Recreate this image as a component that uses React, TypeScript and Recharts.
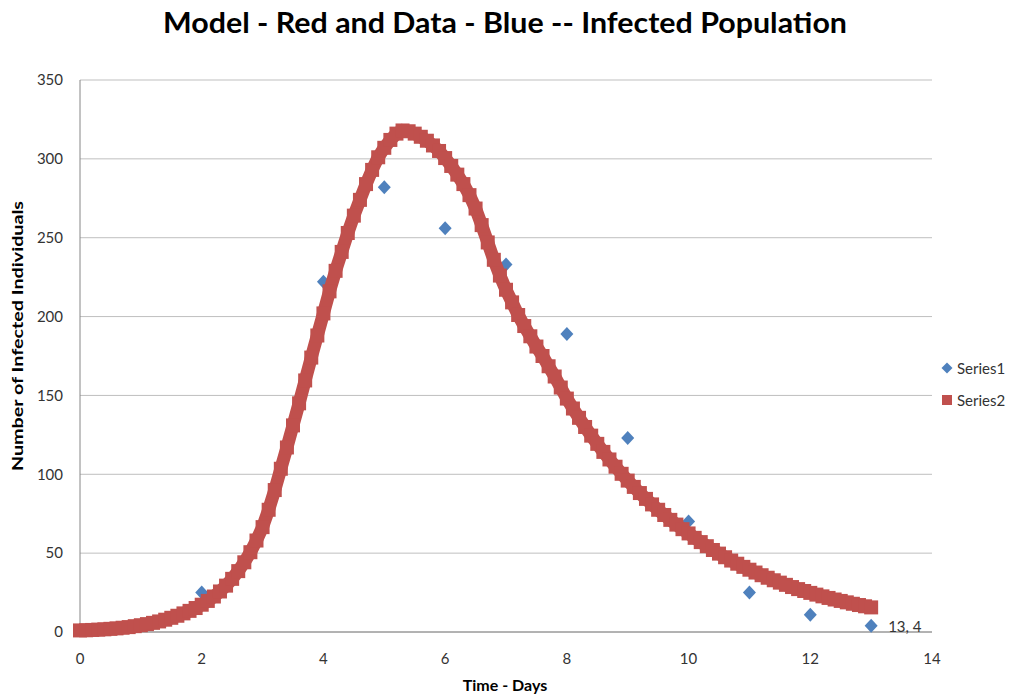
import React from "react";
import { ScatterChart, Scatter, XAxis, YAxis, CartesianGrid, Legend } from "recharts";

// the picture fills the whole window, so drop the default body margin
document.body.style.margin = "0";
document.body.style.overflow = "hidden";

// observed data (Series1, blue diamonds)
const dataDays = [2, 4, 5, 6, 7, 8, 9, 10, 11, 12, 13];
const dataInfected = [25, 222, 282, 256, 233, 189, 123, 70, 25, 11, 4];

// model curve (Series2, red squares) every 0.1 day
const modelDays = [
  0, 0.1, 0.2, 0.3, 0.4, 0.5, 0.6, 0.7, 0.8, 0.9,
  1, 1.1, 1.2, 1.3, 1.4, 1.5, 1.6, 1.7, 1.8, 1.9,
  2, 2.1, 2.2, 2.3, 2.4, 2.5, 2.6, 2.7, 2.8, 2.9,
  3, 3.1, 3.2, 3.3, 3.4, 3.5, 3.6, 3.7, 3.8, 3.9,
  4, 4.1, 4.2, 4.3, 4.4, 4.5, 4.6, 4.7, 4.8, 4.9,
  5, 5.1, 5.2, 5.3, 5.4, 5.5, 5.6, 5.7, 5.8, 5.9,
  6, 6.1, 6.2, 6.3, 6.4, 6.5, 6.6, 6.7, 6.8, 6.9,
  7, 7.1, 7.2, 7.3, 7.4, 7.5, 7.6, 7.7, 7.8, 7.9,
  8, 8.1, 8.2, 8.3, 8.4, 8.5, 8.6, 8.7, 8.8, 8.9,
  9, 9.1, 9.2, 9.3, 9.4, 9.5, 9.6, 9.7, 9.8, 9.9,
  10, 10.1, 10.2, 10.3, 10.4, 10.5, 10.6, 10.7, 10.8, 10.9,
  11, 11.1, 11.2, 11.3, 11.4, 11.5, 11.6, 11.7, 11.8, 11.9,
  12, 12.1, 12.2, 12.3, 12.4, 12.5, 12.6, 12.7, 12.8, 12.9,
  13,
];
const modelInfected = [
  1.0, 1.1, 1.3, 1.5, 1.7, 2.0, 2.3, 2.7, 3.1, 3.7,
  4.3, 5.0, 5.8, 6.7, 7.8, 9.0, 10.3, 11.8, 13.4, 15.2,
  17.3, 19.7, 22.5, 25.7, 29.4, 33.7, 38.6, 44.2, 50.6, 58,
  66.5, 77.5, 90, 103.5, 117, 131, 145, 159.5, 174, 188,
  202, 216, 229, 241, 253, 264, 274, 284, 293, 301,
  307, 312, 316, 318, 317.5, 316, 314, 311.5, 308.5, 305,
  300.5, 295.5, 290, 284, 277, 268.5, 258, 247, 236, 226,
  217, 209, 201, 194, 187.5, 181, 175, 168.5, 162, 155,
  148, 141.7, 135.8, 130, 124.5, 119.3, 114.2, 109.4, 104.8, 100.3,
  96, 92, 88.1, 84.4, 80.9, 77.5, 74.2, 71.1, 68.1, 65.2,
  62.5, 59.7, 57, 54.4, 52, 49.7, 47.4, 45.3, 43.3, 41.3,
  39.5, 37.7, 36, 34.4, 32.8, 31.3, 29.9, 28.5, 27.2, 26,
  24.8, 23.7, 22.6, 21.6, 20.6, 19.7, 18.8, 17.9, 17.1, 16.3,
  15.6,
];

const xTicks = [0, 2, 4, 6, 8, 10, 12, 14];
const yTicks = [0, 50, 100, 150, 200, 250, 300, 350];

const BLUE = "#4F81BD";
const RED = "#C0504D";
const GRID = "#BFBFBF";
const TXT = "#333333";
const FONT = "Lato, 'Open Sans', sans-serif";

const observed = dataDays.map((d, i) => ({ x: d, y: dataInfected[i] }));
const model = modelDays.map((d, i) => ({ x: d, y: modelInfected[i] }));
const lastDay = dataDays[dataDays.length - 1];

const Diamond = (props: any) => {
  const { cx, cy, payload } = props;
  return (
    <g>
      <polygon
        points={`${cx},${cy - 7} ${cx + 6.5},${cy} ${cx},${cy + 7} ${cx - 6.5},${cy}`}
        fill={BLUE}
      />
      {/* data label only on the last point */}
      {payload.x === lastDay && (
        <text x={cx + 17} y={cy + 6} fontSize={15} fontFamily={FONT} fill={TXT}>
          {`${payload.x}, ${payload.y}`}
        </text>
      )}
    </g>
  );
};

const Square = (props: any) => {
  const { cx, cy } = props;
  return <rect x={cx - 7} y={cy - 7} width={14} height={14} fill={RED} />;
};

const renderLegend = () => (
  <div style={{ fontFamily: FONT, fontSize: 15, color: TXT }}>
    <div style={{ display: "flex", alignItems: "center", height: 32 }}>
      <svg width={12} height={12}>
        <polygon points="6,0.5 11.5,6 6,11.5 0.5,6" fill={BLUE} />
      </svg>
      <span style={{ marginLeft: 4 }}>Series1</span>
    </div>
    <div style={{ display: "flex", alignItems: "center", height: 32 }}>
      <svg width={12} height={12}>
        <rect x={1} y={1} width={10} height={10} fill={RED} />
      </svg>
      <span style={{ marginLeft: 4 }}>Series2</span>
    </div>
  </div>
);

export default function App() {
  return (
    <div style={{ position: "relative", width: 1015, height: 696, background: "#fff" }}>
      <ScatterChart
        width={1015}
        height={696}
        margin={{ top: 80, right: 83, bottom: 24, left: 10 }}
      >
        <CartesianGrid vertical={false} stroke={GRID} />
        <XAxis
          type="number"
          dataKey="x"
          domain={[0, 14]}
          ticks={xTicks}
          height={40}
          tickLine={false}
          tickSize={0}
          tickMargin={21}
          axisLine={{ stroke: "#868686" }}
          tick={{ fill: TXT, fontSize: 15, fontFamily: FONT }}
        />
        <YAxis
          type="number"
          dataKey="y"
          domain={[0, 350]}
          ticks={yTicks}
          width={70}
          tickLine={false}
          tickSize={0}
          tickMargin={17}
          axisLine={{ stroke: "#868686" }}
          tick={{ fill: TXT, fontSize: 15, fontFamily: FONT }}
        />
        <Legend
          layout="vertical"
          align="center"
          verticalAlign="middle"
          wrapperStyle={{ left: 941, top: 352, width: 74 }}
          content={renderLegend}
        />
        <Scatter
          name="Series1"
          data={observed}
          fill={BLUE}
          shape={Diamond}
          isAnimationActive={false}
        />
        <Scatter
          name="Series2"
          data={model}
          fill={RED}
          line={{ stroke: RED, strokeWidth: 13 }}
          lineType="joint"
          shape={Square}
          isAnimationActive={false}
        />
      </ScatterChart>
      <svg
        width={1015}
        height={696}
        style={{ position: "absolute", left: 0, top: 0, pointerEvents: "none" }}
      >
        <text
          x={505}
          y={33}
          textAnchor="middle"
          fontSize={28}
          fontWeight="bold"
          fontFamily={FONT}
          fill="#000"
          textLength={684}
          lengthAdjust="spacingAndGlyphs"
        >
          Model - Red and Data - Blue -- Infected Population
        </text>
        <text
          x={505}
          y={691}
          textAnchor="middle"
          fontSize={16}
          fontWeight="bold"
          fontFamily={FONT}
          fill="#000"
        >
          Time - Days
        </text>
        <text
          x={0}
          y={0}
          transform="translate(23,336) rotate(-90)"
          textAnchor="middle"
          fontSize={16}
          fontWeight="bold"
          fontFamily={FONT}
          fill="#000"
          textLength={270}
          lengthAdjust="spacingAndGlyphs"
        >
          Number of Infected Individuals
        </text>
      </svg>
    </div>
  );
}
